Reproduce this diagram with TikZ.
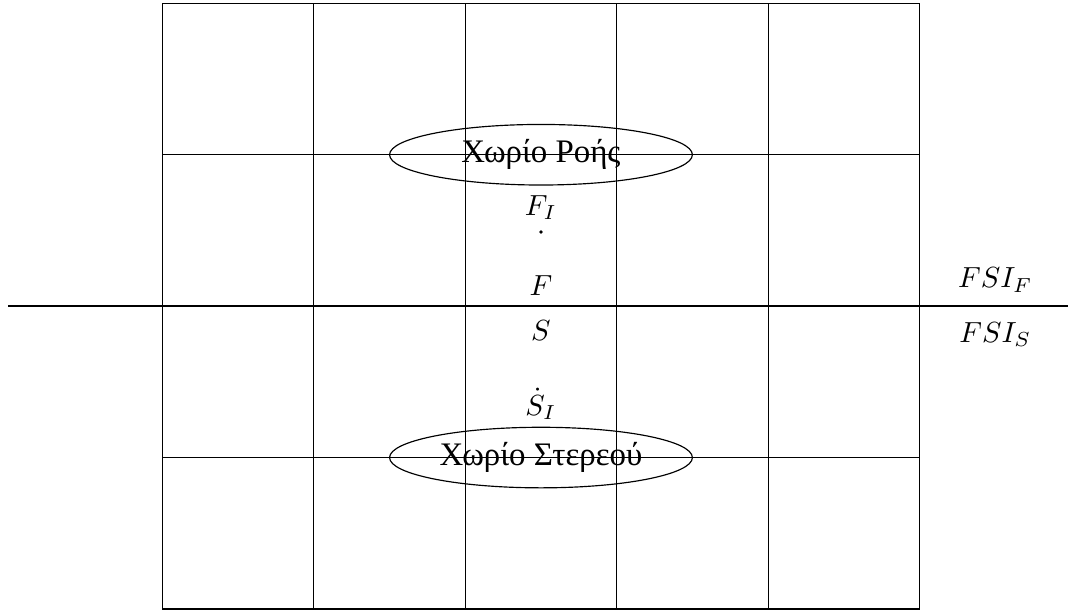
\documentclass[tikz,border=0pt]{standalone}
\usepackage{fontspec}
\newfontfamily\greekfont{Liberation Serif}
\usetikzlibrary{shapes.geometric}
\begin{document}
\begin{tikzpicture}[x=1.83cm, y=1.83cm,
  region/.style={draw, ellipse, minimum width=3.66cm, minimum height=0.732cm, inner sep=0pt,
    font=\greekfont\fontsize{11.3}{13}\selectfont}]
  \useasboundingbox (-1.073,-0.007) rectangle (5.994,4.022);
  % Grid of cells
  \draw[step=1.83cm] (0,0) grid (5,4);

  % Interface line
  \coordinate (ifL) at (-1.02,2);
  \coordinate (ifR) at (5.98,2);
  \draw[thick] (ifL) -- (ifR);

  % Fluid and solid regions
  \node[region] (fluid) at (2.5,3) {Χωρίο Ροής};
  \node[region] (solid) at (2.5,1) {Χωρίο Στερεού};

  % Quantities at the interface
  \node[anchor=base] (FI) at (2.5,2.60) {$F_I$};
  \node[circle, fill, inner sep=0.45pt] (Fdot) at (2.5,2.49) {};
  \node[anchor=base] (F) at (2.5,2.07) {$F$};
  \node[anchor=base] (S) at (2.5,1.77) {$S$};
  \node[anchor=base] (SI) at (2.5,1.28) {$\dot{S}_I$};

  % Labels right of the grid
  \node[anchor=base] (fsiF) at (5.5,2.12) {$FSI_F$};
  \node[anchor=base] (fsiS) at (5.5,1.76) {$FSI_S$};
\end{tikzpicture}
\end{document}
